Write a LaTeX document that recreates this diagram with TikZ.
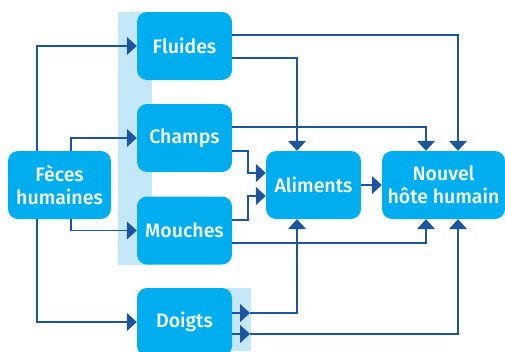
\documentclass[tikz,border=0pt]{standalone}
\usepackage{fontspec}
\setmainfont{Fira Sans}[UprightFont=* Medium]
\usetikzlibrary{arrows.meta}
\definecolor{boxc}{HTML}{00AEEF}
\definecolor{stripc}{HTML}{C5E8F8}
\definecolor{linec}{HTML}{1D559E}
\tikzset{
  box/.style={fill=boxc, rounded corners=10pt, minimum height=68pt, inner sep=0pt,
    text=white, font=\fontsize{19.5}{23}\selectfont, align=center},
  conn/.style={draw=linec, line width=1.2pt, -{Triangle[length=10pt,width=18pt]}},
}
\begin{document}
\begin{tikzpicture}[x=1pt,y=-1pt]
\useasboundingbox (0,0) rectangle (505,351);
% background strips
\fill[stripc] (118,12) rectangle (152,265);
\fill[stripc] (200,288) rectangle (251,351);
% nodes
\node[box, minimum width=95pt] (Fluides) at (184.5,46) {Fluides};
\node[box, minimum width=95pt] (Champs) at (184.5,138) {Champs};
\node[box, minimum width=95pt] (Mouches) at (184.5,230.5) {Mouches};
\node[box, minimum width=95pt] (Doigts) at (184.5,322) {Doigts};
\node[box, minimum width=103pt] (Feces) at (59.5,185) {Fèces\\humaines};
\node[box, minimum width=95pt] (Aliments) at (313.5,185) {Aliments};
\node[box, minimum width=123pt] (Nouvel) at (443.5,185) {Nouvel\\hôte humain};
% helper coordinates
\coordinate (xa) at (37,0);
\coordinate (xb) at (71,0);
\coordinate (xm) at (248,0);
\coordinate (xal) at (297,0);
\coordinate (xn1) at (426,0);
\coordinate (xn2) at (458,0);
\coordinate (yf1) at (0,35);
\coordinate (yf2) at (0,58);
\coordinate (yc1) at (0,127);
\coordinate (yc2) at (0,151);
\coordinate (ya1) at (0,173);
\coordinate (ya2) at (0,196);
\coordinate (ym1) at (0,220);
\coordinate (ym2) at (0,243);
\coordinate (md1) at (250,313);
\coordinate (md2) at (250,334);
% connectors from Feces
\draw[conn] (Feces.north -| xa) |- (Fluides.west);
\draw[conn] (Feces.north -| xb) |- (Champs.west);
\draw[conn] (Feces.south -| xb) |- (Mouches.west);
\draw[conn] (Feces.south -| xa) |- (Doigts.west);
% Fluides
\draw[conn] (Fluides.east |- yf1) -| (Nouvel.north -| xn2);
\draw[conn] (Fluides.east |- yf2) -| (Aliments.north -| xal);
% Champs
\draw[conn] (Champs.east |- yc1) -| (Nouvel.north -| xn1);
\draw[conn] (Champs.east |- yc2) -| (xm |- ya1) -- (Aliments.west |- ya1);
% Mouches
\draw[conn] (Mouches.east |- ym1) -| (xm |- ya2) -- (Aliments.west |- ya2);
\draw[conn] (Mouches.east |- ym2) -| (Nouvel.south -| xn1);
% Aliments
\draw[conn] (Aliments.east) -- (Nouvel.west);
% Doigts
\draw[conn] (Doigts.east |- md1) -- (md1);
\draw[conn] (md1) -| (Aliments.south -| xal);
\draw[conn] (Doigts.east |- md2) -- (md2);
\draw[conn] (md2) -| (Nouvel.south -| xn2);
\end{tikzpicture}
\end{document}
